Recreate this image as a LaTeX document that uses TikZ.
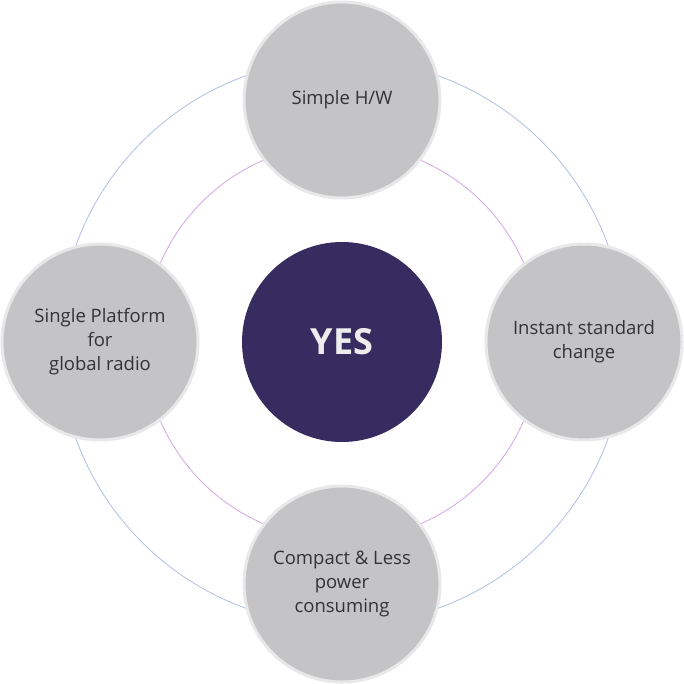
\documentclass[tikz,border=0pt]{standalone}
\usepackage{fontspec}
\setmainfont{Open Sans}
\definecolor{ringblue}{HTML}{AFBEE2}
\definecolor{ringpurple}{HTML}{D3A6E6}
\definecolor{petal}{HTML}{C4C4C6}
\definecolor{petalrim}{HTML}{E8E8E8}
\definecolor{core}{HTML}{372C5F}
\definecolor{txt}{HTML}{333333}
\begin{document}
\begin{tikzpicture}[x=1pt,y=-1pt,
  petalnode/.style={circle,fill=petal,draw=petalrim,line width=3pt,minimum size=196pt,inner sep=0pt,
    text=txt,font=\fontsize{18.5}{24}\selectfont,align=center},
  corenode/.style={circle,fill=core,minimum size=200pt,inner sep=0pt,text=black!7,
    font=\fontsize{36}{40}\selectfont\bfseries}]
\useasboundingbox (0,0) rectangle (684,684);
\coordinate (c) at (342,342);
\draw[ringblue,line width=0.8pt] (c) circle[radius=283];
\draw[ringpurple,line width=0.8pt] (c) circle[radius=198];
\node[petalnode] (top) at (342,100) {Simple H/W};
\node[petalnode] (left) at (100,342) {Single Platform\\for\\global radio};
\node[petalnode] (right) at (584,342) {Instant standard\\change};
\node[petalnode] (bottom) at (342,584) {Compact \& Less\\power\\consuming};
\node[corenode] (yes) at (c) {YES};
\end{tikzpicture}
\end{document}
